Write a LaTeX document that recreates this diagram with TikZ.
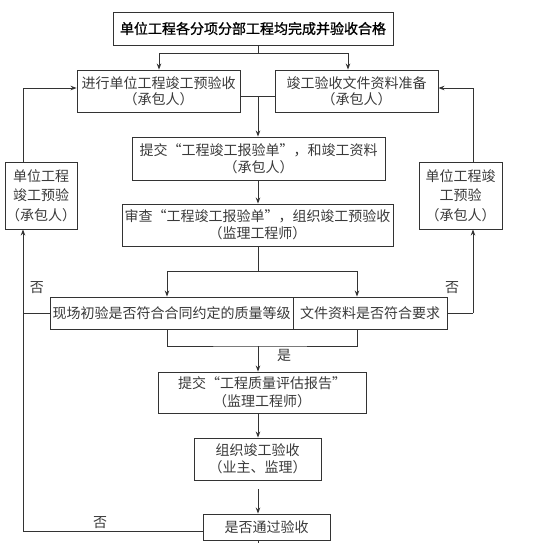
\documentclass[tikz,border=0pt]{standalone}
\usepackage{fontspec}
\setmainfont{Liberation Sans}
\newfontfamily\cjk{Noto Sans CJK SC}
\newfontfamily\cjkb[FakeBold=1]{Noto Sans CJK SC}
\usetikzlibrary{arrows.meta,positioning,calc}
\definecolor{ln}{HTML}{333333}
\definecolor{tx}{HTML}{3A3A3A}
\begin{document}
\begin{tikzpicture}[x=1pt,y=-1pt,
  box/.style={draw=ln,line width=0.9pt,rectangle,inner sep=0pt,align=center,text=tx,
    font=\cjk\fontsize{14}{17}\selectfont},
  conn/.style={draw=ln,line width=0.9pt},
  arr/.style={conn,-{Stealth[length=6pt,width=4.5pt]}},
  lbl/.style={text=tx,inner sep=0pt,font=\cjk\fontsize{14}{16}\selectfont}]
\useasboundingbox (0,0) rectangle (560,542);
\fill[white] (0,0) rectangle (560,542);
% nodes
\node[box,text=black,minimum width=280pt,minimum height=33pt,font=\cjkb\fontsize{14}{17}\selectfont] (top) at (253,28.5) {单位工程各分项分部工程均完成并验收合格};
\node[box,minimum width=163pt,minimum height=42pt,font=\cjk\fontsize{14}{16}\selectfont] (A) at (158.5,91) {进行单位工程竣工预验收\\（承包人）};
\node[box,minimum width=163pt,minimum height=42pt,font=\cjk\fontsize{14}{16}\selectfont] (B) at (356.5,91) {竣工验收文件资料准备\\（承包人）};
\node[box,minimum width=253pt,minimum height=43pt] (C) at (258.5,158.5) {提交“工程竣工报验单”，和竣工资料\\（承包人）};
\node[box,minimum width=72pt,minimum height=67pt,font=\cjk\fontsize{14}{19.5}\selectfont] (L) at (41,195.5) {单位工程\\竣工预验\\（承包人）};
\node[box,minimum width=83pt,minimum height=67pt,font=\cjk\fontsize{14}{19.5}\selectfont] (R) at (460.5,195.5) {单位工程竣\\工预验\\（承包人）};
\node[box,minimum width=271pt,minimum height=42pt] (D) at (257.5,225) {审查“工程竣工报验单”，组织竣工预验收\\（监理工程师）};
\node[box,minimum width=243pt,minimum height=32pt] (E1) at (171.5,313) {现场初验是否符合合同约定的质量等级};
\node[box,minimum width=154pt,minimum height=32pt] (E2) at (370,313) {文件资料是否符合要求};
\node[box,minimum width=208pt,minimum height=41pt,font=\cjk\fontsize{14}{18}\selectfont] (F) at (262,392.5) {提交“工程质量评估报告”\\（监理工程师）};
\node[box,minimum width=127pt,minimum height=42pt] (G) at (257.5,459) {组织竣工验收\\（业主、监理）};
\node[box,minimum width=127pt,minimum height=26pt] (H) at (266.5,527) {是否通过验收};
% coordinates
\coordinate (j1) at (258,53);
\coordinate (j2) at (258,96);
\coordinate (j3) at (258,271);
\coordinate (j4) at (258,346);
\coordinate (lx) at (23,313);
\coordinate (lb) at (23,531);
\coordinate (lt) at (23,88);
\coordinate (rx) at (473,313);
\coordinate (rt) at (473,88);
\coordinate (endc) at (258,545);
% connectors
\draw[conn] (top.south -| j1) -- (j1);
\draw[arr] (j1) -| ([xshift=0.5pt]A.north);
\draw[arr] (j1) -| ([xshift=-8.5pt]B.north);
\draw[conn] ([yshift=-5pt]A.east) -- (j2);
\draw[conn] ([yshift=-5pt]B.west) -- (j2);
\draw[arr] (j2) -- (C.north -| j2);
\draw[arr] (C.south -| j2) -- (D.north -| j2);
\draw[conn] (D.south -| j3) -- (j3);
\draw[arr] (j3) -| ([xshift=-4.5pt]E1.north);
\draw[arr] (j3) -| ([xshift=-13pt]E2.north);
\draw[conn] ([xshift=-4.5pt]E1.south) |- (j4) -| ([xshift=-13pt]E2.south);
\draw[arr] (j4) -- (F.north -| j4);
\draw[arr] (F.south -| j4) -- (G.north -| j4);
\draw[arr,shorten <=9pt] (G.south -| j4) -- (H.north -| j4);
\draw[conn] (H.south -| j4) -- (endc);
% left loop
\draw[conn] (E1.west) -- (lx);
\draw[conn] ([yshift=-4pt]H.west) -- (lb);
\draw[arr] (lb) -- (L.south -| lb);
\draw[arr] (L.north -| lt) -- (lt) -- (A.west |- lt);
% right loop
\draw[conn] (E2.east) -- (rx);
\draw[arr] (rx) -- (R.south -| rx);
\draw[arr] (R.north -| rt) -- (rt) -- (B.east |- rt);
% labels
\node[lbl] (n1) at (37,288) {否};
\node[lbl] (n2) at (452,288) {否};
\node[lbl] (n3) at (100,523) {否};
\node[lbl] (y1) at (284,355) {是};
\end{tikzpicture}
\end{document}
